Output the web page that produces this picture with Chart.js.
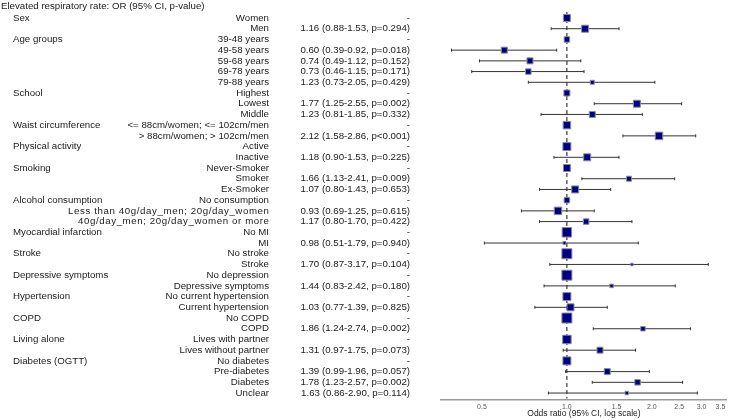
<!DOCTYPE html>
<html>
<head>
<meta charset="utf-8">
<script src="https://cdn.jsdelivr.net/npm/chart.js@4/dist/chart.umd.min.js"></script>
<style>
  html, body { margin: 0; padding: 0; background: #fff; }
  #wrap { width: 735px; height: 420px; }
</style>
</head>
<body>
<div id="wrap"><canvas id="forest" width="735" height="420"></canvas></div>
<script>
const title = 'Elevated respiratory rate: OR (95% CI, p-value)';
const axisTitle = 'Odds ratio (95% CI, log scale)';

const groups = ['Sex', 'Age groups', 'School', 'Waist circumference', 'Physical activity', 'Smoking',
  'Alcohol consumption', 'Myocardial infarction', 'Stroke', 'Depressive symptoms', 'Hypertension',
  'COPD', 'Living alone', 'Diabetes (OGTT)'];
const groupSizes = [2, 5, 3, 2, 2, 3, 3, 2, 2, 2, 2, 2, 2, 4];

const levels = ['Women', 'Men', '39-48 years', '49-58 years', '59-68 years', '69-78 years', '79-88 years',
  'Highest', 'Lowest', 'Middle', '<= 88cm/women; <= 102cm/men', '> 88cm/women; > 102cm/men',
  'Active', 'Inactive', 'Never-Smoker', 'Smoker', 'Ex-Smoker', 'No consumption',
  'Less than 40g/day_men; 20g/day_women', '40g/day_men; 20g/day_women or more', 'No MI', 'MI',
  'No stroke', 'Stroke', 'No depression', 'Depressive symptoms', 'No current hypertension',
  'Current hypertension', 'No COPD', 'COPD', 'Lives with partner', 'Lives without partner',
  'No diabetes', 'Pre-diabetes', 'Diabetes', 'Unclear'];

// null = reference level
const oddsRatio = [null, 1.16, null, 0.60, 0.74, 0.73, 1.23, null, 1.77, 1.23, null, 2.12, null, 1.18,
  null, 1.66, 1.07, null, 0.93, 1.17, null, 0.98, null, 1.70, null, 1.44, null, 1.03, null, 1.86,
  null, 1.31, null, 1.39, 1.78, 1.63];
const ciLow = [null, 0.88, null, 0.39, 0.49, 0.46, 0.73, null, 1.25, 0.81, null, 1.58, null, 0.90,
  null, 1.13, 0.80, null, 0.69, 0.80, null, 0.51, null, 0.87, null, 0.83, null, 0.77, null, 1.24,
  null, 0.97, null, 0.99, 1.23, 0.86];
const ciHigh = [null, 1.53, null, 0.92, 1.12, 1.15, 2.05, null, 2.55, 1.85, null, 2.86, null, 1.53,
  null, 2.41, 1.43, null, 1.25, 1.70, null, 1.79, null, 3.17, null, 2.42, null, 1.39, null, 2.74,
  null, 1.75, null, 1.96, 2.57, 2.90];
const pValues = [null, '0.294', null, '0.018', '0.152', '0.171', '0.429', null, '0.002', '0.332', null,
  '<0.001', null, '0.225', null, '0.009', '0.653', null, '0.615', '0.422', null, '0.940', null, '0.104',
  null, '0.180', null, '0.825', null, '0.002', null, '0.073', null, '0.057', '0.002', '0.114'];
// relative weight of each estimate (drawn as box size)
const weights = [7, 7, 5.5, 6, 6, 5.5, 4, 6, 7, 6, 7.5, 7.5, 8, 7, 7, 5, 7, 5.5, 7.5, 5.5, 9.5, 3,
  10, 2.5, 10, 3.5, 8, 7, 10, 4.5, 8.5, 6, 8, 6, 5.5, 3.5];

const tickVals = [0.5, 1.0, 1.5, 2.0, 2.5, 3.0, 3.5];

const FONT = '"Liberation Sans", Arial, sans-serif';
const yMin = -0.56, yMax = 35.65;

const boxes = levels.map((_, i) => ({ x: oddsRatio[i] ?? 1, y: i }));
const ciPts = [];
levels.forEach((_, i) => {
  if (ciLow[i] == null) return;
  ciPts.push({ x: ciLow[i], y: i }, { x: ciHigh[i], y: i }, { x: NaN, y: NaN });
});

function orText(i) {
  if (oddsRatio[i] == null) return '-';
  const p = pValues[i].startsWith('<') ? 'p' + pValues[i] : 'p=' + pValues[i];
  return `${oddsRatio[i].toFixed(2)} (${ciLow[i].toFixed(2)}-${ciHigh[i].toFixed(2)}, ${p})`;
}

const textPlugin = {
  id: 'forestText',
  afterDraw(chart) {
    const ctx = chart.ctx;
    const ys = chart.scales.y;
    ctx.save();
    ctx.fillStyle = '#1a1a1a';
    ctx.font = '9.7px ' + FONT;
    ctx.textBaseline = 'middle';
    ctx.textAlign = 'left';
    ctx.fillText(title, 1, 6);

    let row = 0;
    groups.forEach((g, k) => {
      ctx.textAlign = 'left';
      ctx.fillText(g, 13, ys.getPixelForValue(row));
      row += groupSizes[k];
    });
    levels.forEach((lv, i) => {
      const y = ys.getPixelForValue(i);
      ctx.textAlign = 'right';
      // the alcohol labels run a bit wider in the original
      ctx.letterSpacing = lv.includes('_') ? '0.6px' : '0px';
      ctx.fillText(lv, lv.includes('_') ? 269.6 : 269, y);
      ctx.letterSpacing = '0px';
      ctx.fillText(orText(i), 410, y);
    });
    ctx.restore();
  }
};

new Chart(document.getElementById('forest'), {
  type: 'scatter',
  data: {
    datasets: [
      {
        data: boxes,
        pointStyle: 'rect',
        pointRadius: weights.map(w => w / 1.414),
        pointBackgroundColor: '#000080',
        pointBorderColor: '#8a8aa0',
        pointBorderWidth: 1,
        showLine: false,
        order: 0
      },
      {
        data: ciPts,
        showLine: true,
        spanGaps: false,
        borderColor: '#333',
        borderWidth: 1,
        pointStyle: 'line',
        rotation: 90,
        pointRadius: 1.5,
        pointBorderColor: '#333',
        pointBorderWidth: 1,
        order: 1
      },
      {
        data: [{ x: 1, y: yMin }, { x: 1, y: yMax - 0.15 }],
        showLine: true,
        borderColor: '#111',
        borderWidth: 1,
        borderDash: [4, 3],
        pointRadius: 0,
        order: 2
      }
    ]
  },
  options: {
    responsive: false,
    animation: false,
    devicePixelRatio: 1,
    layout: { padding: { left: 441, top: 12, right: 0, bottom: 0 } },
    plugins: { legend: { display: false }, tooltip: { enabled: false }, title: { display: false } },
    scales: {
      x: {
        type: 'logarithmic',
        min: 0.358,
        max: 3.69,
        afterBuildTicks: s => { s.ticks = tickVals.map(v => ({ value: v })); },
        afterFit: s => { s.height = 20; },
        grid: { display: false, drawTicks: false },
        border: { display: true, color: '#999', width: 1.5 },
        ticks: {
          autoSkip: false,
          maxRotation: 0,
          padding: 3,
          color: '#555',
          font: { family: FONT, size: 7 },
          callback: v => Number(v).toFixed(1)
        },
        title: {
          display: true,
          text: axisTitle,
          color: '#1a1a1a',
          font: { family: FONT, size: 8.5 },
          padding: { top: 0, bottom: 1 }
        }
      },
      y: {
        type: 'linear',
        reverse: true,
        min: yMin,
        max: yMax,
        display: false
      }
    }
  },
  plugins: [textPlugin]
});
</script>
</body>
</html>
